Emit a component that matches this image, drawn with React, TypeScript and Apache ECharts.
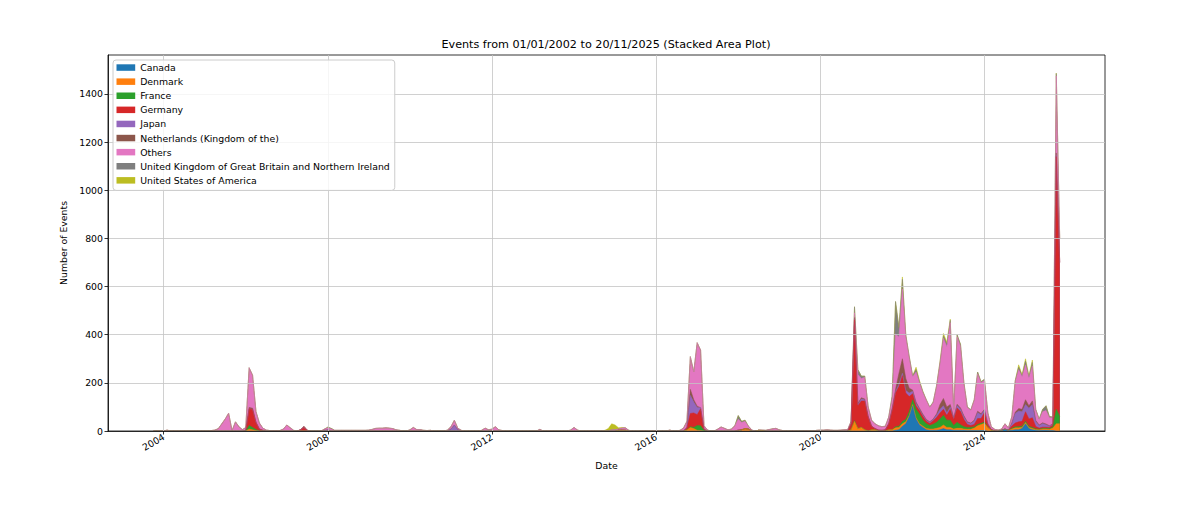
import React, { useEffect, useRef } from "react";
import * as echarts from "echarts";

// ---- data -------------------------------------------------------------
const FIRST_MONTH = "2003-10";
const LAST_MONTH = "2025-11";

const yearTicks = [2004, 2008, 2012, 2016, 2020, 2024];
const countTicks = [0, 200, 400, 600, 800, 1000, 1200, 1400];

const countries = [
  "Canada",
  "Denmark",
  "France",
  "Germany",
  "Japan",
  "Netherlands (Kingdom of the)",
  "Others",
  "United Kingdom of Great Britain and Northern Ireland",
  "United States of America",
];

type P = [string, number];

const canada: P[] = [
  ["2021-11", 3], ["2021-12", 5], ["2022-01", 20], ["2022-02", 30], ["2022-03", 60], ["2022-04", 105],
  ["2022-05", 50], ["2022-06", 25], ["2022-07", 15], ["2022-08", 5], ["2022-09", 3], ["2022-10", 3],
  ["2022-11", 3], ["2022-12", 5], ["2023-01", 10], ["2023-02", 5], ["2023-03", 5], ["2023-04", 3],
  ["2023-05", 3], ["2023-06", 3], ["2023-07", 3], ["2023-08", 2], ["2023-09", 2], ["2023-10", 2],
  ["2023-11", 2], ["2023-12", 2], ["2024-01", 2], ["2024-06", 3], ["2024-07", 8], ["2024-08", 3],
  ["2024-09", 3], ["2024-10", 5], ["2024-11", 5], ["2024-12", 10], ["2025-01", 30], ["2025-02", 10],
  ["2025-03", 5], ["2025-04", 3], ["2025-05", 2], ["2025-06", 3], ["2025-07", 3], ["2025-08", 2],
  ["2025-09", 2],
];

const denmark: P[] = [
  ["2006-02", 8], ["2006-03", 5], ["2006-04", 2], ["2015-02", 3], ["2015-03", 4], ["2015-04", 3],
  ["2016-10", 5], ["2016-11", 15], ["2016-12", 10], ["2017-01", 3], ["2017-02", 2], ["2018-02", 5],
  ["2018-03", 10], ["2018-04", 8], ["2018-07", 3], ["2018-08", 2], ["2020-10", 5], ["2020-11", 40],
  ["2020-12", 10], ["2021-01", 15], ["2021-02", 5], ["2021-04", 5], ["2021-05", 5], ["2021-09", 5],
  ["2021-10", 5], ["2021-11", 10], ["2021-12", 10], ["2022-01", 10], ["2022-02", 8], ["2022-03", 5],
  ["2022-04", 5], ["2022-05", 5], ["2022-06", 5], ["2022-07", 5], ["2022-08", 5], ["2022-09", 5],
  ["2022-10", 5], ["2022-11", 8], ["2022-12", 10], ["2023-01", 15], ["2023-02", 10], ["2023-03", 10],
  ["2023-04", 5], ["2023-05", 8], ["2023-06", 8], ["2023-07", 5], ["2023-08", 5], ["2023-09", 5],
  ["2023-10", 10], ["2023-11", 20], ["2023-12", 25], ["2024-01", 30], ["2024-02", 15], ["2024-03", 3],
  ["2024-09", 5], ["2024-10", 8], ["2024-11", 8], ["2024-12", 5], ["2025-01", 5], ["2025-02", 5],
  ["2025-03", 5], ["2025-04", 3], ["2025-05", 3], ["2025-06", 5], ["2025-07", 5], ["2025-08", 5],
  ["2025-09", 10], ["2025-10", 30], ["2025-11", 30],
];

const france: P[] = [
  ["2006-02", 15], ["2006-03", 10], ["2006-04", 4], ["2016-11", 3], ["2016-12", 5], ["2017-01", 20],
  ["2017-02", 20], ["2017-03", 2], ["2020-11", 3], ["2021-11", 5], ["2021-12", 5], ["2022-01", 10],
  ["2022-02", 10], ["2022-03", 15], ["2022-04", 20], ["2022-05", 35], ["2022-06", 40], ["2022-07", 25],
  ["2022-08", 20], ["2022-09", 15], ["2022-10", 20], ["2022-11", 25], ["2022-12", 35], ["2023-01", 40],
  ["2023-02", 30], ["2023-03", 30], ["2023-04", 15], ["2023-05", 25], ["2023-06", 15], ["2023-07", 10],
  ["2023-08", 8], ["2023-09", 8], ["2023-10", 5], ["2023-11", 5], ["2023-12", 5], ["2024-01", 5],
  ["2024-09", 3], ["2024-10", 5], ["2024-11", 5], ["2024-12", 5], ["2025-01", 5], ["2025-02", 5],
  ["2025-03", 5], ["2025-04", 3], ["2025-05", 2], ["2025-06", 3], ["2025-07", 3], ["2025-08", 3],
  ["2025-09", 5], ["2025-10", 60], ["2025-11", 30],
];

const germany: P[] = [
  ["2006-01", 2], ["2006-02", 70], ["2006-03", 75], ["2006-04", 30], ["2006-05", 8], ["2006-06", 3],
  ["2007-05", 5], ["2007-06", 14], ["2007-07", 3], ["2016-10", 8], ["2016-11", 55], ["2016-12", 60],
  ["2017-01", 45], ["2017-02", 70], ["2017-03", 5], ["2018-01", 4], ["2020-10", 25], ["2020-11", 420],
  ["2020-12", 95], ["2021-01", 110], ["2021-02", 120], ["2021-03", 60], ["2021-04", 15], ["2021-05", 5],
  ["2021-06", 4], ["2021-07", 3], ["2021-08", 5], ["2021-09", 25], ["2021-10", 80], ["2021-11", 140],
  ["2021-12", 165], ["2022-01", 190], ["2022-02", 110], ["2022-03", 63], ["2022-04", 25], ["2022-05", 15],
  ["2022-06", 15], ["2022-07", 15], ["2022-08", 10], ["2022-09", 8], ["2022-10", 15], ["2022-11", 20],
  ["2022-12", 25], ["2023-01", 25], ["2023-02", 20], ["2023-03", 45], ["2023-04", 25], ["2023-05", 60],
  ["2023-06", 55], ["2023-07", 30], ["2023-08", 12], ["2023-09", 8], ["2023-10", 10], ["2023-11", 25],
  ["2023-12", 20], ["2024-01", 40], ["2024-02", 10], ["2024-03", 3], ["2024-04", 1], ["2024-09", 10],
  ["2024-10", 15], ["2024-11", 20], ["2024-12", 20], ["2025-01", 40], ["2025-02", 30], ["2025-03", 40],
  ["2025-04", 10], ["2025-05", 5], ["2025-06", 5], ["2025-07", 5], ["2025-08", 5], ["2025-09", 8],
  ["2025-10", 1050], ["2025-11", 640],
];

const japan: P[] = [
  ["2007-12", 3], ["2008-01", 5], ["2011-01", 8], ["2011-02", 25], ["2011-03", 6], ["2016-10", 2],
  ["2016-11", 75], ["2016-12", 45], ["2017-01", 30], ["2017-02", 5], ["2020-11", 3], ["2020-12", 5],
  ["2021-01", 8], ["2021-02", 5], ["2021-10", 3], ["2021-11", 5], ["2021-12", 10], ["2022-01", 10],
  ["2022-02", 10], ["2022-03", 15], ["2022-04", 10], ["2022-05", 10], ["2022-06", 5], ["2022-07", 5],
  ["2022-08", 5], ["2022-09", 5], ["2022-10", 5], ["2022-11", 10], ["2022-12", 15], ["2023-01", 15],
  ["2023-02", 10], ["2023-03", 10], ["2023-04", 5], ["2023-05", 10], ["2023-06", 10], ["2023-07", 10],
  ["2023-08", 8], ["2023-09", 8], ["2023-10", 15], ["2023-11", 25], ["2023-12", 15], ["2024-01", 10],
  ["2024-02", 5], ["2024-09", 10], ["2024-10", 40], ["2024-11", 45], ["2024-12", 40], ["2025-01", 30],
  ["2025-02", 45], ["2025-03", 55], ["2025-04", 20], ["2025-05", 10], ["2025-06", 15], ["2025-07", 10],
  ["2025-08", 5], ["2025-09", 3], ["2025-10", 5],
];

const netherlands: P[] = [
  ["2006-02", 5], ["2006-03", 5], ["2007-06", 4], ["2016-11", 25], ["2016-12", 10], ["2017-01", 5],
  ["2020-11", 5], ["2020-12", 5], ["2021-01", 5], ["2021-02", 3], ["2021-10", 5], ["2021-11", 10],
  ["2021-12", 45], ["2022-01", 60], ["2022-02", 50], ["2022-03", 20], ["2022-04", 5], ["2022-05", 5],
  ["2022-06", 5], ["2022-07", 5], ["2022-08", 3], ["2022-09", 2], ["2022-10", 2], ["2022-11", 5],
  ["2022-12", 20], ["2023-01", 30], ["2023-02", 25], ["2023-03", 10], ["2023-04", 3], ["2023-05", 5],
  ["2023-06", 5], ["2023-07", 5], ["2023-08", 3], ["2023-09", 2], ["2023-10", 3], ["2023-11", 5],
  ["2023-12", 5], ["2024-01", 3], ["2024-09", 2], ["2024-10", 5], ["2024-11", 10], ["2024-12", 10],
  ["2025-01", 20], ["2025-02", 10], ["2025-03", 15], ["2025-04", 5], ["2025-05", 3], ["2025-06", 3],
  ["2025-07", 3], ["2025-08", 2], ["2025-09", 2], ["2025-10", 10],
];

const others: P[] = [
  ["2004-02", 4], ["2005-03", 2], ["2005-04", 4], ["2005-05", 10], ["2005-06", 30], ["2005-07", 50],
  ["2005-08", 74], ["2005-09", 2], ["2005-10", 38], ["2005-11", 18], ["2005-12", 6], ["2006-01", 12],
  ["2006-02", 165], ["2006-03", 137], ["2006-04", 45], ["2006-05", 25], ["2006-06", 9], ["2006-07", 4],
  ["2006-08", 2], ["2006-09", 2], ["2006-10", 2], ["2006-11", 2], ["2006-12", 8], ["2007-01", 25],
  ["2007-02", 14], ["2007-03", 3], ["2007-06", 2], ["2007-12", 5], ["2008-01", 8], ["2008-02", 8],
  ["2008-03", 3], ["2008-04", 3], ["2008-05", 3], ["2008-06", 3], ["2008-07", 3], ["2008-08", 3],
  ["2008-09", 3], ["2008-10", 3], ["2008-11", 3], ["2008-12", 3], ["2009-01", 4], ["2009-02", 7],
  ["2009-03", 11], ["2009-04", 12], ["2009-05", 12], ["2009-06", 13], ["2009-07", 12], ["2009-08", 10],
  ["2009-09", 5], ["2009-10", 3], ["2010-01", 5], ["2010-02", 15], ["2010-03", 6], ["2010-04", 6],
  ["2010-05", 3], ["2010-06", 2], ["2010-07", 3], ["2010-12", 4], ["2011-01", 10], ["2011-02", 20],
  ["2011-03", 6], ["2011-04", 3], ["2011-10", 3], ["2011-11", 12], ["2011-12", 5], ["2012-01", 8],
  ["2012-02", 18], ["2012-03", 5], ["2012-04", 2], ["2012-08", 2], ["2013-03", 7], ["2013-06", 2],
  ["2013-12", 4], ["2014-01", 15], ["2014-02", 4], ["2014-06", 2], ["2014-12", 5], ["2015-01", 5],
  ["2015-02", 5], ["2015-03", 8], ["2015-04", 10], ["2015-05", 3], ["2015-09", 2], ["2016-01", 2],
  ["2016-05", 4], ["2016-08", 3], ["2016-09", 12], ["2016-10", 25], ["2016-11", 135], ["2016-12", 116],
  ["2017-01", 264], ["2017-02", 239], ["2017-03", 15], ["2017-04", 4], ["2017-07", 8], ["2017-08", 17],
  ["2017-09", 11], ["2017-10", 5], ["2017-11", 8], ["2017-12", 22], ["2018-01", 45], ["2018-02", 30],
  ["2018-03", 30], ["2018-04", 12], ["2018-05", 4], ["2018-08", 2], ["2018-09", 3], ["2018-10", 6],
  ["2018-11", 9], ["2018-12", 11], ["2019-01", 5], ["2019-02", 2], ["2019-05", 2], ["2019-09", 2],
  ["2019-12", 3], ["2020-01", 4], ["2020-02", 4], ["2020-03", 5], ["2020-04", 4], ["2020-05", 3],
  ["2020-06", 3], ["2020-07", 4], ["2020-08", 5], ["2020-09", 6], ["2020-10", 10], ["2020-11", 20],
  ["2020-12", 120], ["2021-01", 80], ["2021-02", 90], ["2021-03", 40], ["2021-04", 25], ["2021-05", 20],
  ["2021-06", 18], ["2021-07", 15], ["2021-08", 15], ["2021-09", 28], ["2021-10", 40], ["2021-11", 230],
  ["2021-12", 150], ["2022-01", 290], ["2022-02", 172], ["2022-03", 125], ["2022-04", 55], ["2022-05", 125],
  ["2022-06", 105], ["2022-07", 90], ["2022-08", 80], ["2022-09", 60], ["2022-10", 68], ["2022-11", 115],
  ["2022-12", 170], ["2023-01", 250], ["2023-02", 250], ["2023-03", 340], ["2023-04", 32], ["2023-05", 280],
  ["2023-06", 255], ["2023-07", 130], ["2023-08", 60], ["2023-09", 53], ["2023-10", 83], ["2023-11", 155],
  ["2023-12", 128], ["2024-01", 120], ["2024-02", 45], ["2024-03", 12], ["2024-04", 6], ["2024-05", 4],
  ["2024-06", 5], ["2024-07", 22], ["2024-08", 10], ["2024-09", 25], ["2024-10", 127], ["2024-11", 162],
  ["2024-12", 135], ["2025-01", 145], ["2025-02", 115], ["2025-03", 145], ["2025-04", 43], ["2025-05", 23],
  ["2025-06", 46], ["2025-07", 56], ["2025-08", 33], ["2025-09", 25], ["2025-10", 320], ["2025-11", 100],
];

const unitedKingdom: P[] = [
  ["2008-01", 3], ["2008-02", 3], ["2016-11", 1], ["2018-01", 15], ["2018-02", 5], ["2018-03", 5],
  ["2020-11", 25], ["2020-12", 20], ["2021-01", 10], ["2021-02", 5], ["2021-10", 12], ["2021-11", 135],
  ["2021-12", 40], ["2022-01", 40], ["2022-02", 10], ["2022-03", 7], ["2022-04", 5], ["2022-05", 10],
  ["2022-06", 5], ["2022-07", 3], ["2022-08", 2], ["2022-09", 2], ["2022-10", 2], ["2022-11", 2],
  ["2022-12", 5], ["2023-01", 10], ["2023-02", 10], ["2023-03", 10], ["2023-04", 2], ["2023-05", 9],
  ["2023-06", 9], ["2023-07", 7], ["2023-08", 2], ["2023-09", 2], ["2023-10", 2], ["2023-11", 8],
  ["2023-12", 5], ["2024-01", 5], ["2024-09", 2], ["2024-10", 5], ["2024-11", 10], ["2024-12", 5],
  ["2025-01", 15], ["2025-02", 5], ["2025-03", 15], ["2025-04", 3], ["2025-05", 2], ["2025-06", 10],
  ["2025-07", 20], ["2025-08", 5], ["2025-09", 3], ["2025-10", 10],
];

const unitedStates: P[] = [
  ["2014-10", 3], ["2014-11", 10], ["2014-12", 25], ["2015-01", 20], ["2015-02", 5], ["2015-03", 3],
  ["2022-01", 10], ["2022-05", 10], ["2022-06", 5], ["2022-07", 2], ["2022-11", 2], ["2022-12", 5],
  ["2023-01", 10], ["2023-02", 10], ["2023-03", 5], ["2024-11", 10], ["2024-12", 5], ["2025-01", 10],
  ["2025-02", 5], ["2025-03", 10], ["2025-10", 2],
];

const seriesValues = [canada, denmark, france, germany, japan, netherlands, others, unitedKingdom, unitedStates];

// ---- styling ----------------------------------------------------------
const colors = ["#1f77b4", "#ff7f0e", "#2ca02c", "#d62728", "#9467bd", "#8c564b", "#e377c2", "#7f7f7f", "#bcbd22"];
const FONT = "DejaVu Sans";
const FS = 9.33;
const X_MIN = 2002.644;
const X_MAX = 2026.937;
const Y_MAX = 1562;

function monthList(a: string, b: string): string[] {
  const [ay, am] = a.split("-").map(Number);
  const [by, bm] = b.split("-").map(Number);
  const out: string[] = [];
  let y = ay, m = am;
  while (y < by || (y === by && m <= bm)) {
    out.push(`${y}-${String(m).padStart(2, "0")}`);
    m++;
    if (m > 12) { m = 1; y++; }
  }
  return out;
}
const months = monthList(FIRST_MONTH, LAST_MONTH);
const toYear = (k: string) => {
  const [y, m] = k.split("-").map(Number);
  return y + (m - 1) / 12;
};
// monthly table (0 where a country has no events), then running totals for the stack
const table = seriesValues.map((pairs) => {
  const map = new Map(pairs);
  return months.map((k) => map.get(k) ?? 0);
});
const cumulative = table.map((_, i) =>
  months.map((k, j) => {
    let s = 0;
    for (let r = 0; r <= i; r++) s += table[r][j];
    return [toYear(k), s];
  })
);

const textBase = { fontFamily: FONT, fontSize: FS, color: "#000" };

// top layer first so lower layers are painted over it
const order = countries.map((_, i) => i).reverse();

const option: any = {
  animation: false,
  backgroundColor: "#ffffff",
  textStyle: { fontFamily: FONT },
  graphic: [
    {
      type: "text",
      x: 606,
      y: 50,
      z: 10,
      style: {
        text: "Events from 01/01/2002 to 20/11/2025 (Stacked Area Plot)",
        fontFamily: FONT,
        fontSize: 11.2,
        fill: "#000",
        align: "center",
        verticalAlign: "bottom",
      },
    },
  ],
  grid: {
    left: 108,
    right: 95,
    top: 55,
    bottom: 82,
    show: true,
    borderColor: "#000",
    borderWidth: 0.8,
    backgroundColor: "transparent",
  },
  legend: {
    data: countries,
    orient: "vertical",
    left: 113,
    top: 60,
    icon: "rect",
    itemWidth: 18.7,
    itemHeight: 6.5,
    itemGap: 2,
    padding: [1.5, 5, 4, 3.5],
    borderColor: "#cccccc",
    borderWidth: 1,
    borderRadius: 3,
    backgroundColor: "rgba(255,255,255,0.8)",
    selectedMode: false,
    z: 6,
    textStyle: { ...textBase, lineHeight: 12.1 },
  },
  xAxis: {
    type: "value",
    min: X_MIN,
    max: X_MAX,
    z: 3,
    name: "Date",
    nameLocation: "middle",
    nameGap: 30,
    nameTextStyle: textBase,
    axisLine: { show: true, lineStyle: { color: "#000", width: 0.8 } },
    axisTick: { show: true, length: 3.5, customValues: yearTicks, lineStyle: { color: "#000", width: 0.8 } },
    axisLabel: {
      ...textBase,
      customValues: yearTicks,
      rotate: 30,
      margin: 5,
      formatter: (v: number) => String(Math.round(v)),
    },
    splitLine: { show: true, lineStyle: { color: "#c4c4c4", width: 0.8 } },
  },
  yAxis: {
    type: "value",
    min: 0,
    max: Y_MAX,
    z: 3,
    name: "Number of Events",
    nameLocation: "middle",
    nameGap: 26,
    nameTextStyle: textBase,
    axisLine: { show: true, lineStyle: { color: "#000", width: 0.8 } },
    axisTick: { show: true, length: 3.5, customValues: countTicks, lineStyle: { color: "#000", width: 0.8 } },
    axisLabel: { ...textBase, customValues: countTicks, margin: 5, formatter: (v: number) => String(v) },
    splitLine: { show: true, lineStyle: { color: "#c4c4c4", width: 0.8 } },
  },
  series: order.map((i) => ({
    name: countries[i],
    type: "line",
    data: cumulative[i],
    symbol: "none",
    showSymbol: false,
    color: colors[i],
    lineStyle: { width: 0.5, color: colors[i] },
    areaStyle: { color: colors[i], opacity: 1, origin: "start" },
    emphasis: { disabled: true },
    z: 2,
  })),
};

export default function App() {
  const ref = useRef<HTMLDivElement>(null);
  useEffect(() => {
    document.body.style.margin = "0";
    const chart = echarts.init(ref.current!, null, { renderer: "svg" });
    chart.setOption(option);
    return () => chart.dispose();
  }, []);
  return (
    <div
      ref={ref}
      style={{ position: "fixed", left: 0, top: 0, width: 1200, height: 513, background: "#fff" }}
    />
  );
}
